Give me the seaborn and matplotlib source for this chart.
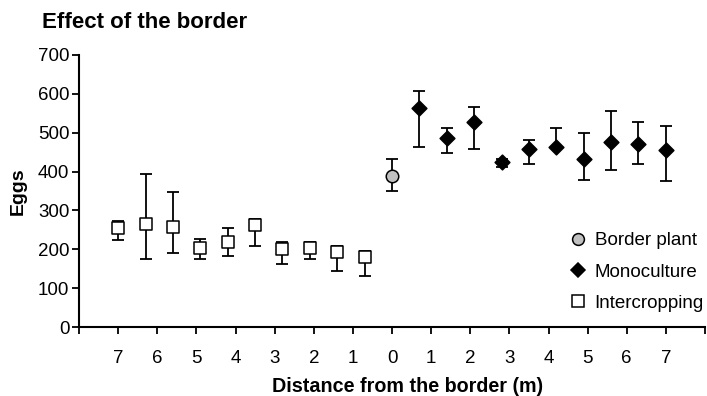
import numpy as np
import pandas as pd
import matplotlib
matplotlib.use("Agg")
import matplotlib.pyplot as plt
import seaborn as sns
from matplotlib.lines import Line2D

# ---- data ----
inter_x = [-7.0, -6.3, -5.6, -4.9, -4.2, -3.5, -2.8, -2.1, -1.4, -0.7]
inter_y = [254, 265, 257, 204, 219, 262, 200, 204, 193, 180]
inter_lo = [224, 175, 190, 175, 183, 209, 163, 175, 145, 132]
inter_hi = [273, 394, 347, 227, 255, 279, 218, 218, 209, 195]

border_x = [0.0]
border_y = [388]
border_lo = [349]
border_hi = [432]

mono_x = [0.7, 1.4, 2.1, 2.8, 3.5, 4.2, 4.9, 5.6, 6.3, 7.0]
mono_y = [562, 485, 528, 424, 458, 463, 431, 475, 471, 455]
mono_lo = [463, 448, 459, 412, 420, 463, 378, 405, 420, 375]
mono_hi = [607, 512, 566, 433, 481, 512, 498, 555, 528, 517]

x_ticks = list(range(-7, 8))
x_tick_labels = [str(abs(v)) for v in x_ticks]
y_ticks = [0, 100, 200, 300, 400, 500, 600, 700]

series_names = ["Border plant", "Monoculture", "Intercropping"]

df = pd.DataFrame({
    "x": border_x + mono_x + inter_x,
    "y": border_y + mono_y + inter_y,
    "lo": border_lo + mono_lo + inter_lo,
    "hi": border_hi + mono_hi + inter_hi,
    "group": ["Border plant"] * len(border_x) + ["Monoculture"] * len(mono_x)
             + ["Intercropping"] * len(inter_x),
})

sns.set_style("ticks")
FONT = ["Liberation Sans", "DejaVu Sans"]
plt.rcParams["font.family"] = FONT
plt.rcParams["text.color"] = "black"
plt.rcParams["axes.labelcolor"] = "black"
plt.rcParams["xtick.color"] = "black"
plt.rcParams["ytick.color"] = "black"

W, H = 707, 396
fig = plt.figure(figsize=(W / 100, H / 100), dpi=100)
ax = fig.add_axes([79 / W, 1 - 327.3 / H, (705 - 79) / W, (327.3 - 54.7) / H])

# error bars
for g in series_names:
    d = df[df["group"] == g]
    ax.errorbar(d["x"], d["y"], yerr=[d["y"] - d["lo"], d["hi"] - d["y"]],
                fmt="none", ecolor="black", elinewidth=1.3, capsize=4.2,
                capthick=1.3, zorder=2)

styles = {
    "Border plant": dict(marker="o", facecolor="#c0c0c0", size=9),
    "Monoculture": dict(marker="D", facecolor="black", size=7.5),
    "Intercropping": dict(marker="s", facecolor="white", size=8.5),
}
for g in series_names:
    d = df[df["group"] == g]
    st = styles[g]
    sns.scatterplot(data=d, x="x", y="y", ax=ax, marker=st["marker"],
                    color=st["facecolor"], edgecolor="black", linewidth=1.1,
                    s=st["size"] ** 2, zorder=3, legend=False)

ax.set_xlim(-8, 8)
ax.set_ylim(0, 700)
ax.set_xticks(list(range(-8, 9)))
ax.set_xticklabels([""] + x_tick_labels + [""])
ax.set_yticks(y_ticks)
ax.set_yticklabels([str(v) for v in y_ticks])
ax.set_xlabel("")
ax.set_ylabel("")
sns.despine(ax=ax)
for s in ["left", "bottom"]:
    ax.spines[s].set_linewidth(1.5)
    ax.spines[s].set_color("black")
ax.tick_params(axis="x", length=5, width=1.3, pad=11, labelsize=13.5,
               colors="black")
ax.tick_params(axis="y", length=5, width=1.3, pad=2, labelsize=13.5,
               colors="black")

fig.text(42 / W, 1 - 22 / H, "Effect of the border", fontsize=16,
         fontweight="bold", ha="left", va="center", color="black")
fig.text(18 / W, 1 - 191 / H, "Eggs", fontsize=14, fontweight="bold",
         rotation=90, ha="center", va="center", color="black")
fig.text(408 / W, 1 - 386 / H, "Distance from the border (m)", fontsize=14.2,
         fontweight="bold", ha="center", va="center", color="black")

handles = [
    Line2D([], [], ls="none", marker="o", markerfacecolor="#c0c0c0",
           markeredgecolor="black", markersize=8.5, markeredgewidth=1.1),
    Line2D([], [], ls="none", marker="D", markerfacecolor="black",
           markeredgecolor="black", markersize=7, markeredgewidth=1.1),
    Line2D([], [], ls="none", marker="s", markerfacecolor="white",
           markeredgecolor="black", markersize=8.5, markeredgewidth=1.1),
]
leg = fig.legend(handles, series_names, loc="center left",
                 bbox_to_anchor=(561 / W, 1 - 272 / H), frameon=False,
                 fontsize=13.5, handlelength=0.8, handletextpad=0.5,
                 labelspacing=0.75, borderpad=0)
for t in leg.get_texts():
    t.set_color("black")

fig.savefig("out.png", dpi=100)
